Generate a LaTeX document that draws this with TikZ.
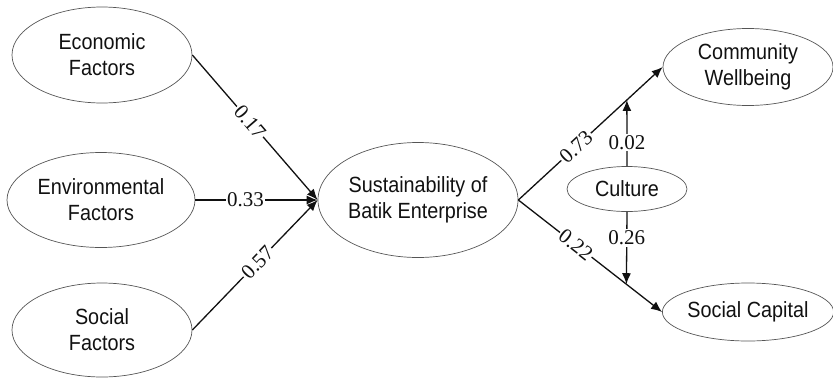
\documentclass[tikz,border=0pt]{standalone}
\usepackage{fontspec}
\setmainfont{Liberation Serif}
\setsansfont{Liberation Sans}[FakeStretch=0.9]
\usetikzlibrary{arrows.meta,positioning,shapes.geometric}
\definecolor{semInk}{HTML}{111111}
\definecolor{semLine}{HTML}{555555}
\tikzset{
    >={Latex[length=11pt,width=9pt]},
    latent/.style={ellipse, draw=semLine, line width=0.7pt, align=center, inner sep=0pt, text=semInk, font=\sffamily\fontsize{22}{26}\selectfont},
    pathline/.style={->, line width=1.3pt, draw=semInk},
    coef/.style={fill=white, inner sep=1.5pt, text=semInk, font=\rmfamily\fontsize{21}{24}\selectfont}
}
\begin{document}
\begin{tikzpicture}[x=1pt, y=-1pt]
    \useasboundingbox (0,0) rectangle (833,378);
    \node[latent, minimum width=180pt, minimum height=96pt] (econ) at (102,55) {Economic\\Factors};
    \node[latent, minimum width=188pt, minimum height=95pt] (env) at (101,200) {Environmental\\Factors};
    \node[latent, minimum width=180pt, minimum height=94pt] (soc) at (102,330) {Social\\Factors};
    \node[latent, minimum width=200pt, minimum height=115pt] (sust) at (418,200) {Sustainability of\\Batik Enterprise};
    \node[latent, minimum width=170pt, minimum height=77pt] (comm) at (748,67) {Community\\Wellbeing};
    \node[latent, minimum width=168pt, minimum height=58pt] (cap) at (748,312) {Social Capital};
    \node[latent, minimum width=120pt, minimum height=45pt] (cult) at (627,189) {Culture};
    \draw[pathline] (econ.east) -- node[coef, sloped, pos=0.46] {0.17} (sust.west);
    \draw[pathline] (env.east) -- node[coef, pos=0.41] {0.33} (sust.west);
    \draw[pathline] (soc.east) -- node[coef, sloped, pos=0.52] {0.57} (sust.west);
    \draw[pathline] (sust.east) -- node[coef, sloped, pos=0.4] {0.73} coordinate[pos=0.752] (upper) (comm.west);
    \draw[pathline] (sust.east) -- node[coef, sloped, pos=0.4] {0.22} coordinate[pos=0.752] (lower) (cap.west);
    \draw[pathline] (cult.north) -- node[coef, pos=0.36] {0.02} (upper);
    \draw[pathline] (cult.south) -- node[coef, pos=0.36] {0.26} (lower);
\end{tikzpicture}
\end{document}
